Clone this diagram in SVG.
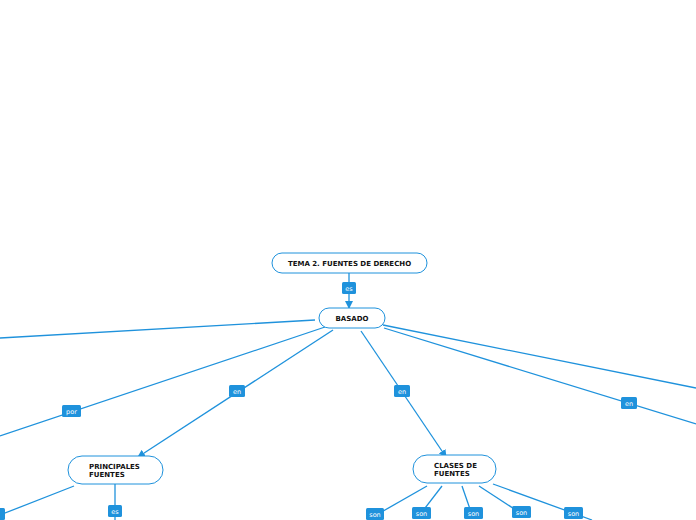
<svg xmlns="http://www.w3.org/2000/svg" width="696" height="520" viewBox="0 0 696 520">
<defs>
<marker id="ah" markerWidth="8" markerHeight="8" refX="7" refY="4" orient="auto" markerUnits="userSpaceOnUse">
<path d="M0,0 L8,4 L0,8 Z" fill="#1f92dc"/>
</marker>
<style>
.n{fill:#fff;stroke:#1f92dc;stroke-width:1}
.t{font-family:"DejaVu Sans",Verdana,sans-serif;font-size:7px;font-weight:bold;fill:#111}
.c{stroke:#1f92dc;stroke-width:1.3;fill:none}
.lb{fill:#1f92dc}
.lt{font-family:"DejaVu Sans",Verdana,sans-serif;font-size:6.5px;fill:#fff;text-anchor:middle}
</style>
</defs>
<rect width="696" height="520" fill="#fff"/>
<g id="connectors">
<line class="c" x1="349" y1="273" x2="349" y2="308" marker-end="url(#ah)"/>
<line class="c" x1="315" y1="320" x2="0" y2="338"/>
<line class="c" x1="325" y1="327" x2="0" y2="436"/>
<line class="c" x1="333" y1="330" x2="138" y2="457" marker-end="url(#ah)"/>
<line class="c" x1="361" y1="331" x2="446" y2="457" marker-end="url(#ah)"/>
<line class="c" x1="383" y1="325" x2="696" y2="388"/>
<line class="c" x1="384" y1="328" x2="696" y2="424"/>
<line class="c" x1="74" y1="486" x2="0" y2="515"/>
<line class="c" x1="115" y1="484" x2="115" y2="520"/>
<line class="c" x1="427" y1="486" x2="378" y2="514"/>
<line class="c" x1="442" y1="486" x2="422" y2="512"/>
<line class="c" x1="462" y1="486" x2="471" y2="512"/>
<line class="c" x1="479" y1="486" x2="522" y2="514"/>
<line class="c" x1="493" y1="484" x2="592" y2="520"/>
<rect class="lb" x="342" y="282" width="14" height="12" rx="1.5"/><text class="lt" x="349" y="290.5">es</text>
<rect class="lb" x="62" y="405" width="19" height="12" rx="1.5"/><text class="lt" x="71.5" y="413.5">por</text>
<rect class="lb" x="229" y="385" width="16" height="12" rx="1.5"/><text class="lt" x="237" y="393.5">en</text>
<rect class="lb" x="394" y="385" width="16" height="12" rx="1.5"/><text class="lt" x="402" y="393.5">en</text>
<rect class="lb" x="621" y="397" width="16" height="12" rx="1.5"/><text class="lt" x="629" y="405.5">en</text>
<rect class="lb" x="-9" y="508" width="14" height="12" rx="1.5"/>
<rect class="lb" x="108" y="505" width="14" height="12" rx="1.5"/><text class="lt" x="115" y="513.5">es</text>
<rect class="lb" x="366" y="508" width="18" height="12" rx="1.5"/><text class="lt" x="375" y="516.5">son</text>
<rect class="lb" x="412" y="507" width="19" height="12" rx="1.5"/><text class="lt" x="421.5" y="515.5">son</text>
<rect class="lb" x="464" y="507" width="19" height="12" rx="1.5"/><text class="lt" x="473.5" y="515.5">son</text>
<rect class="lb" x="512" y="506" width="19" height="12" rx="1.5"/><text class="lt" x="521.5" y="514.5">son</text>
<rect class="lb" x="564" y="507" width="19" height="12" rx="1.5"/><text class="lt" x="573.5" y="515.5">son</text>
</g>
<g id="tema">
<rect class="n" x="272" y="253" width="155" height="20" rx="10"/>
<text class="t" x="349.5" y="265.5" text-anchor="middle">TEMA 2. FUENTES DE DERECHO</text>
</g>
<g id="basado">
<rect class="n" x="319" y="308" width="66" height="20" rx="10"/>
<text class="t" x="352" y="320.5" text-anchor="middle">BASADO</text>
</g>
<g id="principales">
<rect class="n" x="68" y="456" width="95" height="28" rx="14"/>
<text class="t" x="89" y="468.5">PRINCIPALES</text>
<text class="t" x="89" y="476.5">FUENTES</text>
</g>
<g id="clases">
<rect class="n" x="413" y="455" width="83" height="28" rx="14"/>
<text class="t" x="434" y="467.5">CLASES DE</text>
<text class="t" x="434" y="475.5">FUENTES</text>
</g>
</svg>
